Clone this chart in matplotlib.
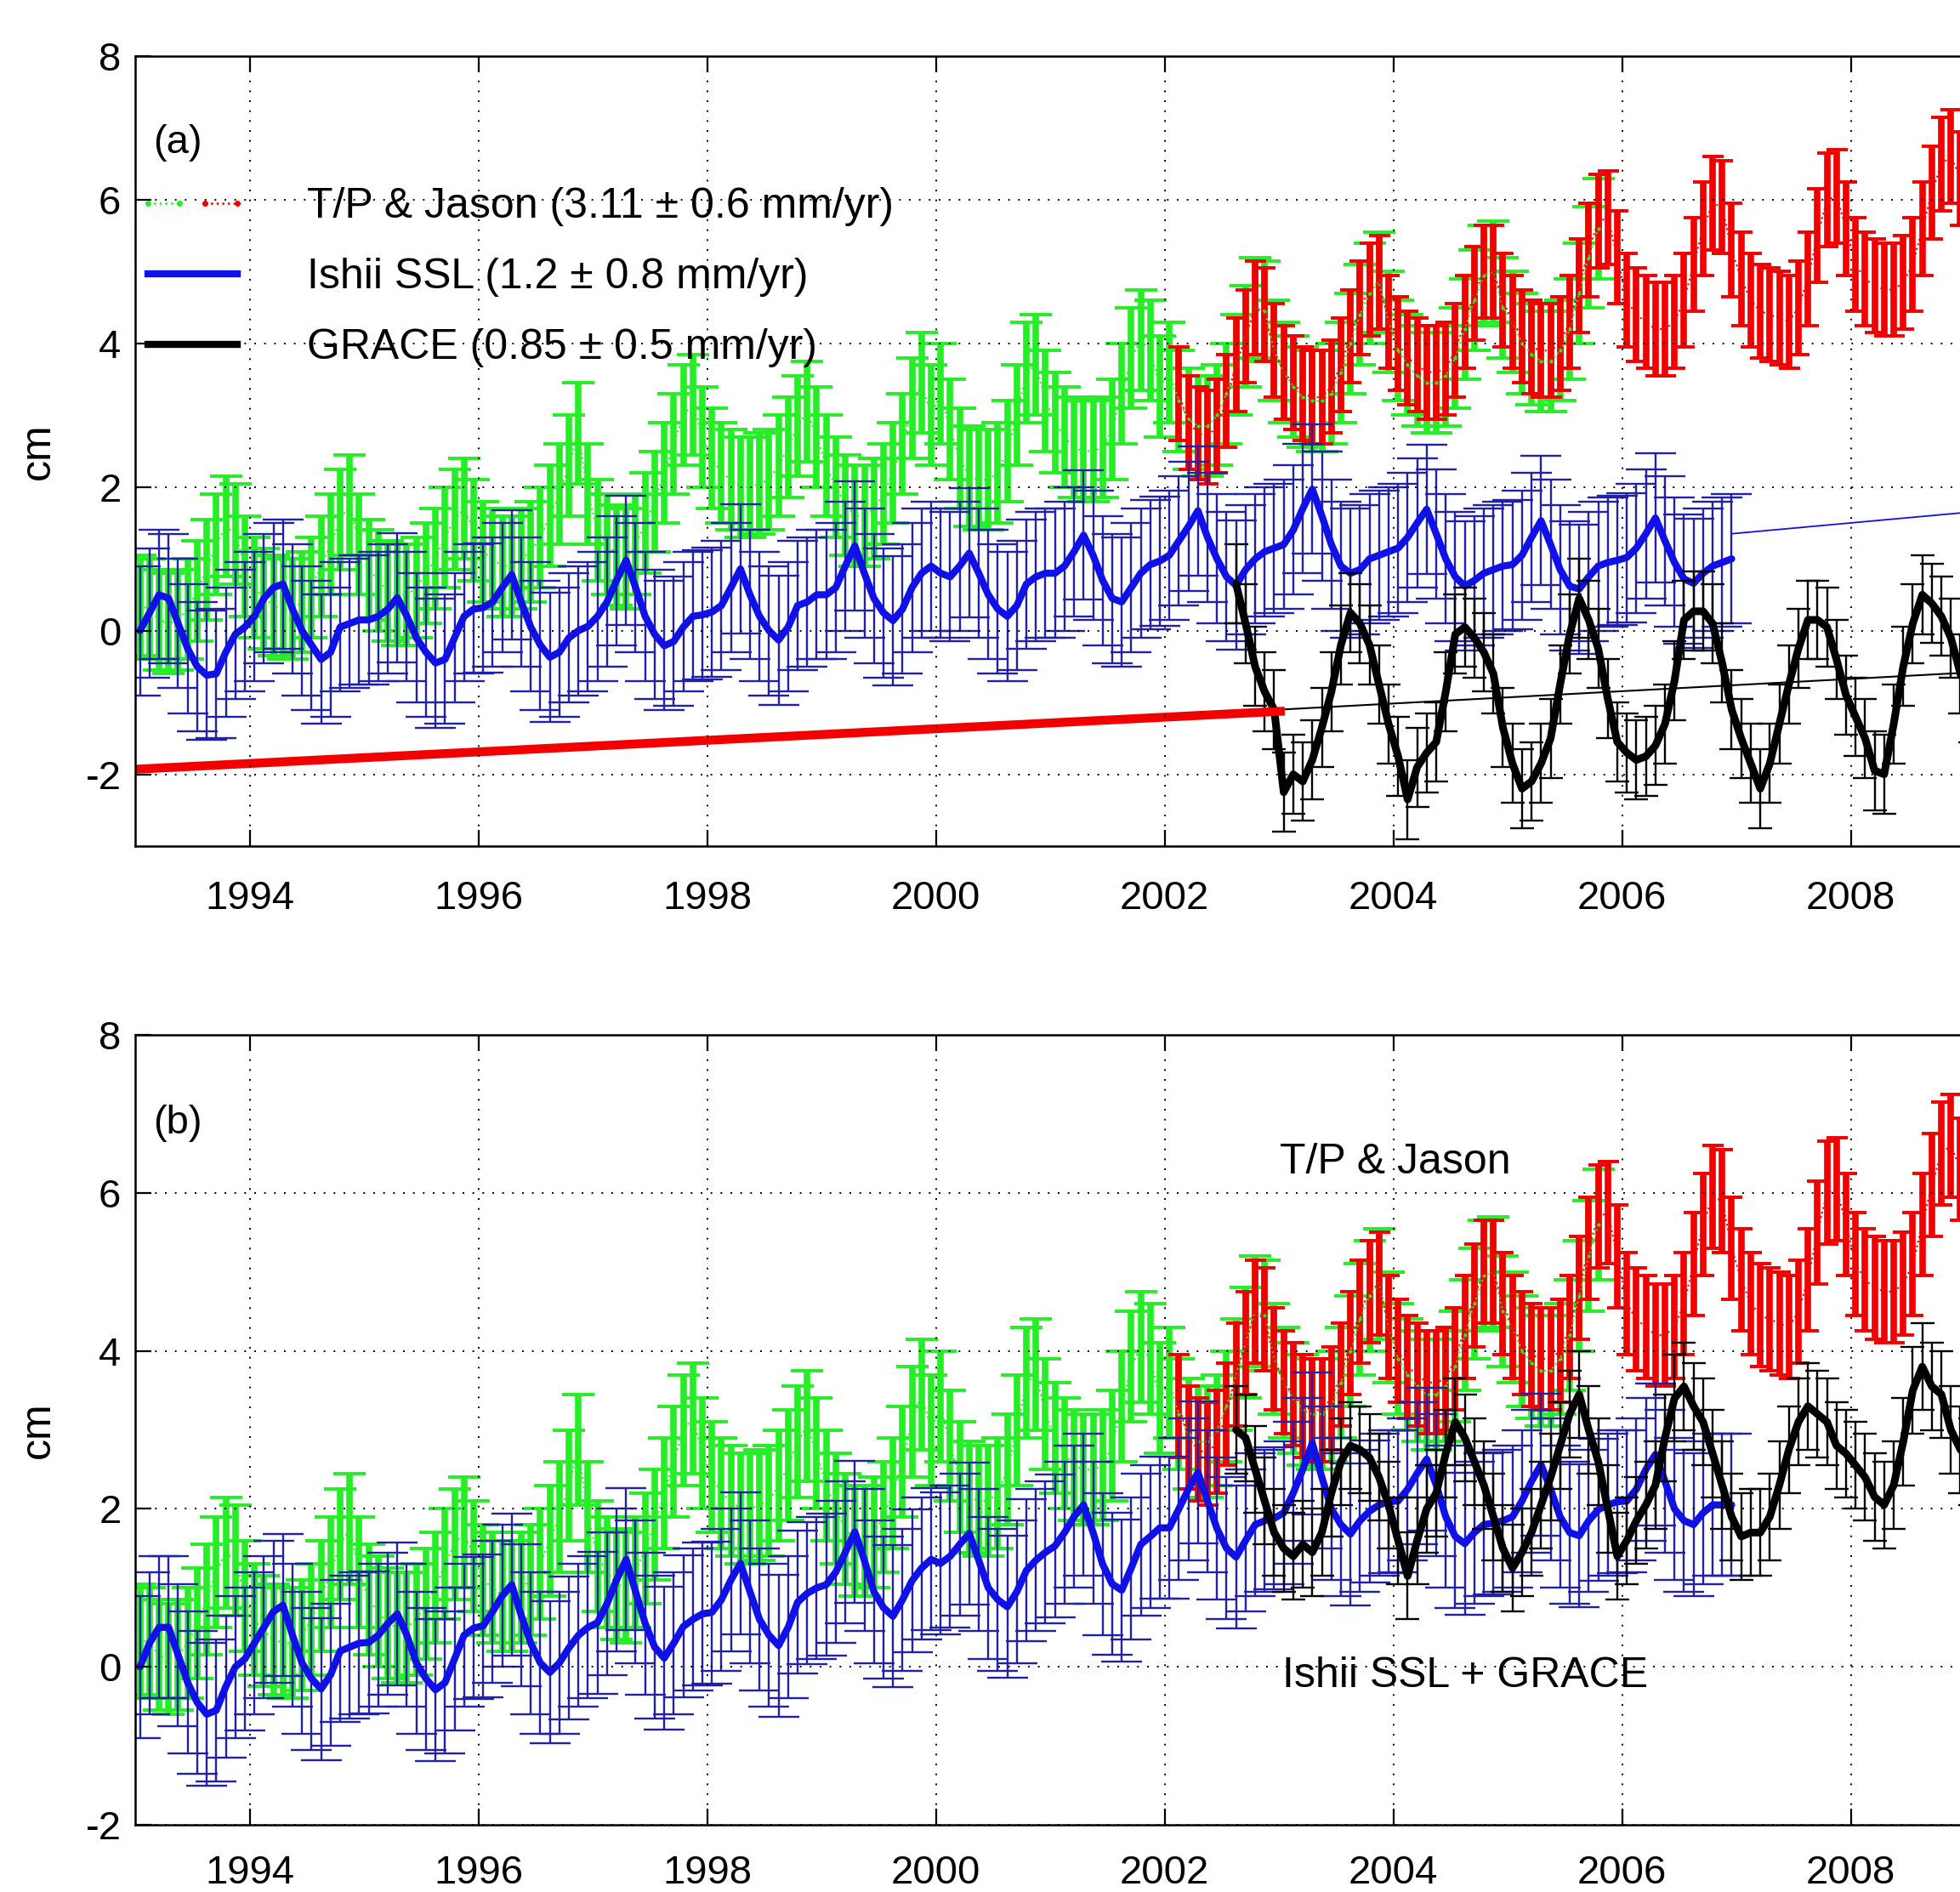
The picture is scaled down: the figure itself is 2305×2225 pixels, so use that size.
import numpy as np
import matplotlib
matplotlib.use("Agg")
import matplotlib.pyplot as plt
from matplotlib.lines import Line2D
from matplotlib.legend_handler import HandlerTuple

plt.rcParams['font.family'] = ['Liberation Sans', 'DejaVu Sans']
plt.rcParams['axes.unicode_minus'] = False

# ---------------- data (monthly values, cm) ----------------
# T/P (green): Jan 1993 .. Oct 2005
tp_start = 1993.0
tp_values = [
    0.35, 0.3, 0.15, 0.1, 0.15, 0.3, 0.55, 0.85, 1.2, 1.45, 1.35, 0.9,
    0.6, 0.45, 0.35, 0.3, 0.3, 0.4, 0.6, 0.9, 1.2, 1.55, 1.75, 1.2,
    0.85, 0.7, 0.55, 0.5, 0.5, 0.6, 0.8, 1.0, 1.3, 1.55, 1.7, 1.4,
    1.1, 1.0, 0.9, 0.9, 1.0, 1.1, 1.3, 1.6, 1.9, 2.3, 2.75, 1.9,
    1.4, 1.2, 1.05, 1.0, 1.2, 1.5, 1.8, 2.2, 2.6, 3.0, 3.15, 2.7,
    2.4, 2.2, 2.1, 2.0, 2.0, 2.05, 2.1, 2.3, 2.55, 2.85, 3.05, 2.7,
    2.3, 2.0, 1.75, 1.6, 1.6, 1.7, 1.9, 2.2, 2.6, 3.1, 3.45, 3.0,
    3.3, 2.8, 2.4, 2.15, 2.1, 2.1, 2.2, 2.5, 3.0, 3.6, 3.7, 3.2,
    2.9, 2.7, 2.55, 2.5, 2.5, 2.55, 2.8, 3.3, 3.8, 4.05, 3.9, 3.4,
    3.6, 3.2, 2.95, 2.85, 2.85, 3.0, 3.3, 3.7, 4.1, 4.5, 4.45, 3.9,
    3.6, 3.4, 3.25, 3.2, 3.2, 3.3, 3.6, 4.0, 4.4, 4.7, 4.85, 4.3,
    3.9, 3.7, 3.55, 3.45, 3.45, 3.55, 3.8, 4.2, 4.6, 4.95, 5.0, 4.5,
    4.3, 4.0, 3.85, 3.75, 3.75, 3.9, 4.2, 4.7, 5.2, 5.6,
]
tp_err = 0.7

# Jason (red): Feb 2002 .. Jan 2009
jason_start = 2002.0 + 1 / 12
jason_values = [
    3.3, 2.9, 2.75, 2.7, 2.85, 3.2, 3.7, 4.1, 4.5, 4.4, 3.9,
    3.6, 3.45, 3.3, 3.25, 3.25, 3.4, 3.7, 4.1, 4.5, 4.75, 4.85, 4.3,
    4.0, 3.8, 3.7, 3.6, 3.6, 3.65, 3.9, 4.3, 4.7, 5.0, 5.0, 4.6,
    4.3, 4.1, 3.95, 3.9, 3.9, 4.0, 4.3, 4.8, 5.3, 5.7, 5.75, 5.2,
    4.6, 4.4, 4.3, 4.2, 4.2, 4.3, 4.6, 5.1, 5.6, 5.95, 5.9, 5.3,
    4.9, 4.6, 4.45, 4.4, 4.35, 4.3, 4.5, 4.9, 5.5, 6.0, 6.05, 5.6,
    5.1, 4.9, 4.8, 4.75, 4.75, 4.85, 5.1, 5.6, 6.1, 6.5, 6.6, 6.3,
    5.8,
]
jason_err = 0.65

# Ishii SSL (blue), panel (a): Jan 1993 .. Dec 2006
ishii_start = 1993.0
ishii_a = [
    0.0, 0.25, 0.5, 0.45, 0.1, -0.25, -0.5, -0.62, -0.6, -0.3, -0.05, 0.05,
    0.2, 0.45, 0.6, 0.65, 0.3, 0.0, -0.2, -0.4, -0.3, 0.05, 0.1, 0.15,
    0.15, 0.2, 0.3, 0.46, 0.2, -0.1, -0.3, -0.45, -0.4, -0.1, 0.2, 0.3,
    0.32, 0.4, 0.6, 0.78, 0.4, 0.05, -0.2, -0.37, -0.3, -0.1, 0.0, 0.06,
    0.2, 0.4, 0.7, 0.98, 0.6, 0.2, -0.05, -0.21, -0.15, 0.05, 0.2, 0.22,
    0.26, 0.35, 0.6, 0.86, 0.5, 0.2, 0.0, -0.13, 0.05, 0.35, 0.4, 0.5,
    0.5, 0.6, 0.9, 1.18, 0.8, 0.45, 0.25, 0.14, 0.3, 0.6, 0.8, 0.9,
    0.8, 0.75, 0.9, 1.08, 0.8, 0.5, 0.3, 0.2, 0.35, 0.65, 0.75, 0.8,
    0.8, 0.9, 1.1, 1.33, 1.05, 0.7, 0.45, 0.4, 0.6, 0.8, 0.92, 0.97,
    1.05, 1.25, 1.45, 1.67, 1.3, 1.0, 0.75, 0.63, 0.85, 1.0, 1.1, 1.15,
    1.2, 1.4, 1.7, 1.97, 1.6, 1.2, 0.9, 0.8, 0.85, 1.0, 1.05, 1.1,
    1.15, 1.3, 1.5, 1.69, 1.35, 1.0, 0.75, 0.62, 0.7, 0.8, 0.85, 0.9,
    0.92, 1.05, 1.3, 1.53, 1.2, 0.85, 0.62, 0.58, 0.75, 0.9, 0.95, 0.98,
    1.02, 1.15, 1.35, 1.57, 1.25, 0.95, 0.72, 0.66, 0.8, 0.9, 0.95, 1.0,
]
# Ishii SSL + GRACE trend (blue), panel (b)
ishii_b = [
    0.0, 0.3, 0.5, 0.5, 0.15, -0.2, -0.45, -0.6, -0.55, -0.25, 0.0, 0.1,
    0.3, 0.5, 0.7, 0.78, 0.4, 0.05, -0.15, -0.28, -0.1, 0.2, 0.25, 0.3,
    0.31, 0.4, 0.55, 0.67, 0.4, 0.05, -0.15, -0.29, -0.2, 0.1, 0.4, 0.49,
    0.52, 0.7, 0.9, 1.04, 0.65, 0.3, 0.05, -0.07, 0.05, 0.24, 0.4, 0.5,
    0.56, 0.8, 1.1, 1.36, 0.95, 0.55, 0.25, 0.11, 0.3, 0.51, 0.6, 0.67,
    0.69, 0.85, 1.1, 1.31, 0.95, 0.6, 0.4, 0.27, 0.5, 0.82, 0.93, 1.0,
    1.04, 1.2, 1.45, 1.71, 1.35, 0.95, 0.75, 0.64, 0.85, 1.09, 1.25, 1.36,
    1.31, 1.4, 1.55, 1.69, 1.35, 1.0, 0.85, 0.76, 0.95, 1.22, 1.35, 1.45,
    1.53, 1.7, 1.9, 2.05, 1.7, 1.3, 1.05, 0.97, 1.25, 1.55, 1.65, 1.76,
    1.76, 2.0, 2.25, 2.46, 2.1, 1.75, 1.5, 1.39, 1.6, 1.8, 1.85, 1.88,
    1.95, 2.2, 2.5, 2.83, 2.4, 2.0, 1.8, 1.68, 1.85, 1.97, 2.05, 2.09,
    2.1, 2.25, 2.45, 2.63, 2.3, 1.9, 1.65, 1.56, 1.7, 1.8, 1.82, 1.85,
    1.9, 2.1, 2.35, 2.56, 2.25, 1.9, 1.7, 1.66, 1.85, 1.99, 2.05, 2.09,
    2.1, 2.25, 2.5, 2.69, 2.35, 2.0, 1.85, 1.8, 1.95, 2.05, 2.05, 2.05,
]
ishii_err = 0.9

# GRACE (black): Aug 2002 .. Jan 2009
grace_start = 2002.0 + 7 / 12
grace_a = [
    0.65, 0.1, -0.5, -0.85, -1.1,
    -2.25, -2.0, -2.1, -1.8, -1.35, -0.85, -0.2, 0.25, 0.1, -0.2, -0.75, -1.3,
    -1.75, -2.35, -1.9, -1.7, -1.55, -0.85, -0.05, 0.05, -0.1, -0.3, -0.6, -1.35,
    -1.85, -2.2, -2.1, -1.85, -1.5, -0.75, -0.05, 0.45, 0.15, -0.25, -0.95, -1.55,
    -1.7, -1.8, -1.75, -1.6, -1.3, -0.7, 0.15, 0.27, 0.27, 0.1, -0.45, -1.1,
    -1.5, -1.85, -2.2, -1.85, -1.3, -0.75, -0.25, 0.15, 0.15, 0.05, -0.4, -0.9,
    -1.2, -1.5, -1.95, -2.0, -1.3, -0.5, 0.1, 0.5, 0.38, 0.2, -0.1, -0.6,
    -1.0,
]
grace_b = [
    3.0, 2.9, 2.5, 2.1, 1.7,
    1.5, 1.4, 1.55, 1.45, 1.7, 2.2, 2.6, 2.8, 2.75, 2.65, 2.4, 2.05,
    1.6, 1.15, 1.6, 2.0, 2.2, 2.7, 3.1, 2.9, 2.6, 2.3, 1.9, 1.5,
    1.25, 1.45, 1.7, 2.05, 2.4, 2.8, 3.2, 3.45, 3.0, 2.6, 2.0, 1.4,
    1.6, 1.85, 2.05, 2.3, 2.9, 3.4, 3.55, 3.3, 3.1, 2.7, 2.3, 1.9,
    1.65, 1.7, 1.7, 1.9, 2.3, 2.75, 3.1, 3.3, 3.2, 3.1, 2.8, 2.7,
    2.55, 2.4, 2.15, 2.05, 2.3, 2.85, 3.5, 3.8, 3.55, 3.45, 3.0, 2.75,
    2.6,
]
grace_err = 0.55

# trend lines (panel a)
red_trend_x = [1993.0, 2003.05]
red_trend_y = [-1.93, -1.12]
black_trend_x = [2003.0, 2010.0]
black_trend_y = [-1.1, -0.5]
blue_trend_x = [2006.96, 2010.0]
blue_trend_y = [1.35, 1.79]

legend_labels = ["T/P & Jason (3.11 \u00b1 0.6 mm/yr)",
                 "Ishii SSL (1.2 \u00b1 0.8 mm/yr)",
                 "GRACE (0.85 \u00b1 0.5 mm/yr)"]
x_ticks = [1994, 1996, 1998, 2000, 2002, 2004, 2006, 2008]


def monthly(start, values):
    return start + (np.arange(len(values)) + 0.5) / 12.0


t_tp = monthly(tp_start, tp_values)
t_jason = monthly(jason_start, jason_values)
t_ishii = monthly(ishii_start, ishii_a)
t_grace = monthly(grace_start, grace_a)

GREEN = '#26ee26'
RED = '#f20000'
BLUE = '#1010e8'
BLUE_E = '#2020a8'

fig = plt.figure(figsize=(23.05, 22.25), dpi=100)
ax1 = fig.add_axes([0.0690, 0.5528, 0.992, 0.4175])
ax2 = fig.add_axes([0.0690, 0.0355, 0.992, 0.4175])


def base_series(ax, ishii, grace):
    ax.errorbar(t_tp, tp_values, yerr=tp_err, fmt='.', ls=':', ms=4,
                color=GREEN, ecolor=GREEN, elinewidth=5.5, capsize=14,
                capthick=2.8, zorder=1.1)
    ax.errorbar(t_jason, jason_values, yerr=jason_err, fmt='.', ls=':', ms=4,
                color=RED, ecolor=RED, elinewidth=5.5, capsize=9,
                capthick=2.8, zorder=1.2)
    ax.errorbar(t_ishii, ishii, yerr=ishii_err, fmt='none', ecolor=BLUE_E,
                elinewidth=1.7, capsize=17, capthick=1.7, zorder=1.3)
    ax.plot(t_ishii, ishii, color=BLUE, lw=6, zorder=1.4,
            solid_joinstyle='round', solid_capstyle='round')
    ax.errorbar(t_grace, grace, yerr=grace_err, fmt='none', ecolor='black',
                elinewidth=1.7, capsize=10, capthick=1.7, zorder=1.5)
    ax.plot(t_grace, grace, color='black', lw=6.5, zorder=1.6,
            solid_joinstyle='round', solid_capstyle='round')


base_series(ax1, ishii_a, grace_a)
ax1.plot(red_trend_x, red_trend_y, color=RED, lw=7.5, zorder=1.8,
         solid_capstyle='butt')
ax1.plot(black_trend_x, black_trend_y, color='black', lw=1.5, zorder=1.7)
ax1.plot(blue_trend_x, blue_trend_y, color=BLUE, lw=1.3, zorder=1.7)

base_series(ax2, ishii_b, grace_b)

for ax, ylo, xpad in [(ax1, -3, 29), (ax2, -2, 25)]:
    ax.set_xlim(1993, 2010)
    ax.set_ylim(ylo, 8)
    ax.set_xticks(x_ticks)
    ax.set_yticks([-2, 0, 2, 4, 6, 8])
    ax.set_axisbelow(False)
    ax.grid(True, color='black', linestyle=(0, (1, 5)), linewidth=1.4)
    ax.tick_params(axis='both', direction='in', length=14, width=1.6,
                   top=True, right=True, labelsize=34, colors='black')
    ax.tick_params(axis='x', pad=xpad)
    ax.tick_params(axis='y', pad=12)
    for s in ax.spines.values():
        s.set_linewidth(1.8)
    ax.set_ylabel('cm', fontsize=36)
    ax.yaxis.set_label_coords(-0.040, 0.5)

# legend (panel a)
h_tp = (Line2D([], [], color=GREEN, ls=':', lw=1.8, marker='.', ms=8),
        Line2D([], [], color=RED, ls=':', lw=1.8, marker='.', ms=8))
h_ishii = Line2D([], [], color=BLUE, lw=6)
h_grace = Line2D([], [], color='black', lw=6)
ax1.legend([h_tp, h_ishii, h_grace], legend_labels,
           handler_map={tuple: HandlerTuple(ndivide=None, pad=0)},
           loc='center left', bbox_to_anchor=(1993.0, 4.92),
           bbox_transform=ax1.transData, frameon=False, borderpad=0,
           borderaxespad=0, handlelength=2.69, handletextpad=1.35,
           labelspacing=0.74, fontsize=36, numpoints=2)

ax1.text(1993.16, 6.65, '(a)', fontsize=34, va='baseline', ha='left')
ax2.text(1993.16, 6.75, '(b)', fontsize=34, va='baseline', ha='left')
ax2.text(2003.01, 6.25, 'T/P & Jason', fontsize=36, va='baseline', ha='left')
ax2.text(2003.03, -0.26, 'Ishii SSL + GRACE', fontsize=36, va='baseline', ha='left')

fig.savefig('out.png', dpi=100)
